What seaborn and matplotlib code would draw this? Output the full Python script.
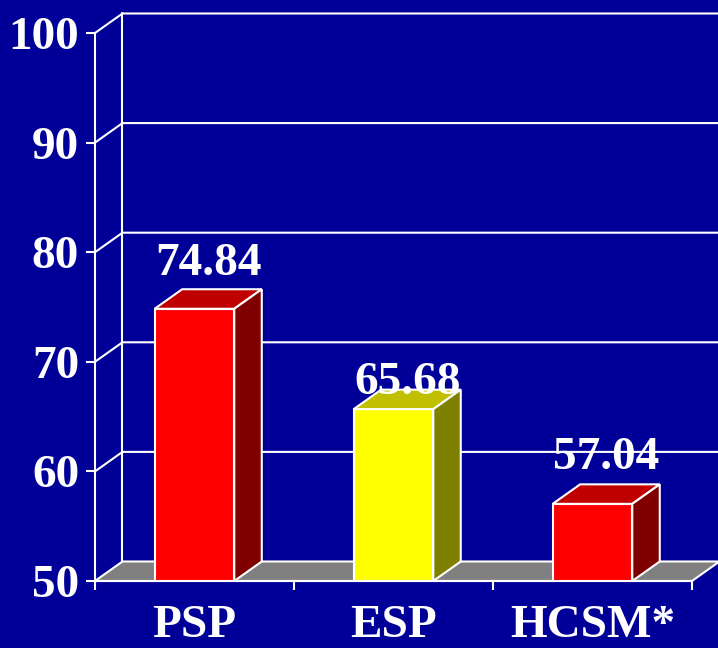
"""Three-bar pseudo-3D chart in old-style slide colours."""

import matplotlib

matplotlib.use("Agg")
import matplotlib.pyplot as plt
import pandas as pd
import seaborn as sns
from matplotlib.patches import Polygon


groups = ["PSP", "ESP", "HCSM*"]
scores = [74.84, 65.68, 57.04]
y_ticks = [50, 60, 70, 80, 90, 100]

front_colors = ["#FF0000", "#FFFF00", "#FF0000"]
top_colors = ["#C00000", "#C0C000", "#C00000"]
side_colors = ["#800000", "#808000", "#800000"]

# how far above each bar top its label's baseline sits (data units)
label_lift = [3.1, 1.4, 3.2]

BG = "#000099"
LINE = "white"
LW = 1.5
DX, DY = 0.138, 1.78  # depth of the 3D effect, in data units
FS = 34


sns.set_theme(style="white")
plt.rcParams["font.family"] = ["Liberation Serif", "DejaVu Serif"]
plt.rcParams["font.weight"] = "bold"

fig = plt.figure(figsize=(7.18, 6.48), dpi=100, facecolor=BG)
ax = fig.add_axes([95 / 718, 67 / 648, 597 / 718, 548 / 648])
ax.set_facecolor(BG)

df = pd.DataFrame({"group": groups, "score": scores})
sns.barplot(
    data=df,
    x="group",
    y="score",
    hue="group",
    palette=front_colors,
    saturation=1,
    width=0.4,
    edgecolor=LINE,
    linewidth=LW,
    legend=False,
    ax=ax,
    zorder=3,
)

x_lo, x_hi = -0.5, len(groups) - 0.5
y_lo, y_hi = y_ticks[0], y_ticks[-1]
ax.set_xlim(x_lo, x_hi)
ax.set_ylim(y_lo, y_hi)

# ─── walls and floor ───────────────────────────────────────────────────────
for t in y_ticks[1:]:
    ax.plot([x_lo, x_lo + DX, x_hi + DX], [t, t + DY, t + DY],
            color=LINE, lw=LW, clip_on=False, zorder=1)
ax.plot([x_lo + DX, x_lo + DX], [y_lo + DY, y_hi + DY],
        color=LINE, lw=LW, clip_on=False, zorder=1)
floor = Polygon(
    [(x_lo, y_lo), (x_hi, y_lo), (x_hi + DX, y_lo + DY), (x_lo + DX, y_lo + DY)],
    closed=True, facecolor="#808080", edgecolor=LINE, lw=LW,
    clip_on=False, zorder=1.5,
)
ax.add_patch(floor)

# ─── bar tops and sides ────────────────────────────────────────────────────
bars = sorted([p for p in ax.patches if p is not floor], key=lambda p: p.get_x())
for i, bar in enumerate(bars):
    x0 = bar.get_x()
    x1 = x0 + bar.get_width()
    v = bar.get_y() + bar.get_height()
    top = Polygon([(x0, v), (x1, v), (x1 + DX, v + DY), (x0 + DX, v + DY)],
                  closed=True, facecolor=top_colors[i], edgecolor=LINE, lw=LW,
                  clip_on=False, zorder=4)
    side = Polygon([(x1, y_lo), (x1, v), (x1 + DX, v + DY), (x1 + DX, y_lo + DY)],
                   closed=True, facecolor=side_colors[i], edgecolor=LINE, lw=LW,
                   clip_on=False, zorder=4)
    ax.add_patch(top)
    ax.add_patch(side)
    ax.text((x0 + x1) / 2 + DX / 2, v + label_lift[i], f"{v:.2f}",
            ha="center", va="baseline", fontsize=FS, color="white",
            fontweight="bold", zorder=6)

# ─── axes ──────────────────────────────────────────────────────────────────
for s in ["top", "right"]:
    ax.spines[s].set_visible(False)
for s in ["left", "bottom"]:
    ax.spines[s].set_color(LINE)
    ax.spines[s].set_linewidth(LW)
    ax.spines[s].set_zorder(5)

ax.set_yticks(y_ticks)
ax.set_xticks(range(len(groups)))
ax.set_xticklabels(groups)
ax.set_xticks([x_lo + k for k in range(len(groups) + 1)], minor=True)
ax.tick_params(axis="y", direction="out", length=6.5, width=LW, color=LINE,
               labelcolor="white", labelsize=FS, pad=5, left=True)
ax.tick_params(axis="x", which="major", length=0, labelcolor="white",
               labelsize=FS, pad=17)
ax.tick_params(axis="x", which="minor", direction="out", length=6.5,
               width=LW, color=LINE, bottom=True)
ax.set_xlabel("")
ax.set_ylabel("")

fig.savefig("out.png", dpi=100, facecolor=BG)
